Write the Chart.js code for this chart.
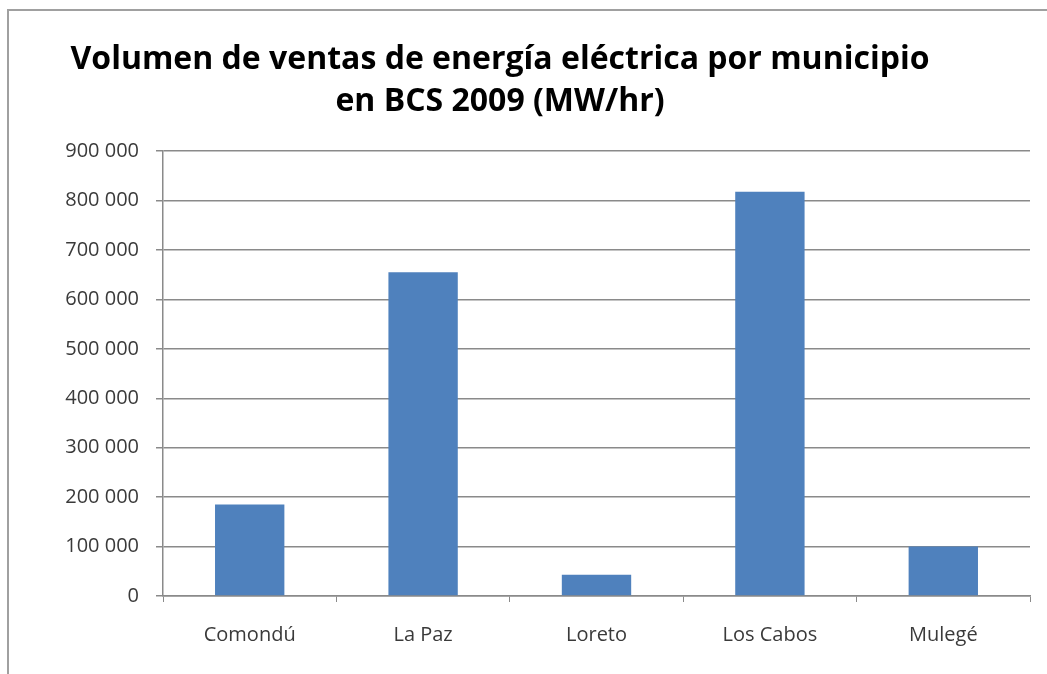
<!DOCTYPE html>
<html>
<head>
<meta charset="utf-8">
<script src="https://cdn.jsdelivr.net/npm/chart.js@4"></script>
<style>
    html, body {
        margin: 0;
        padding: 0;
        background: #ffffff;
    }
    #wrap {
        position: relative;
        width: 1047px;
        height: 674px;
    }
    #frame {
        position: absolute;
        left: 7px;
        top: 9px;
        right: 0;
        bottom: 0;
        border-top: 2px solid #a0a0a0;
        border-left: 2px solid #a0a0a0;
    }
    canvas {
        position: absolute;
        left: 0;
        top: 0;
    }
</style>
</head>
<body>
<div id="wrap">
    <div id="frame"></div>
    <canvas id="salesChart" width="1047" height="674"></canvas>
</div>
<script>
const municipios = ["Comondú", "La Paz", "Loreto", "Los Cabos", "Mulegé"];
const ventas = [185000, 655000, 43000, 818000, 100000];
const titleLines = [
    "Volumen de ventas de energía eléctrica por municipio",
    "en BCS 2009 (MW/hr)",
];

function formatThousands(value) {
    return String(value).replace(/\B(?=(\d{3})+(?!\d))/g, " ");
}

const salesChart = document.getElementById("salesChart");

new Chart(salesChart, {
    type: "bar",
    data: {
        labels: municipios,
        datasets: [
            {
                label: "Ventas",
                data: ventas,
                backgroundColor: "#4f81bd",
                borderWidth: 0,
                categoryPercentage: 1,
                barPercentage: 0.4,
            },
        ],
    },
    options: {
        responsive: false,
        animation: false,
        layout: {
            // negative left padding keeps the title centred like the original
            padding: { left: -30, right: 17, top: 0, bottom: 0 },
        },
        plugins: {
            legend: { display: false },
            tooltip: { enabled: false },
            title: {
                display: true,
                text: titleLines,
                color: "#000000",
                font: { family: "Open Sans", size: 32, weight: "bold", lineHeight: 1.3 },
                padding: { top: 39, bottom: 29 },
            },
        },
        scales: {
            x: {
                offset: true,
                grid: {
                    display: true,
                    drawOnChartArea: false,
                    drawTicks: true,
                    tickLength: 6,
                    color: "#8a8a8a",
                    offset: true,
                },
                border: { color: "#8a8a8a", width: 1.5 },
                ticks: {
                    color: "#3a3a3a",
                    font: { family: "Open Sans", size: 20 },
                    padding: 21,
                },
                afterFit: (scale) => {
                    scale.height = 78;
                },
            },
            y: {
                min: 0,
                max: 900000,
                grid: {
                    color: "#8a8a8a",
                    lineWidth: 1.5,
                    tickLength: 7,
                },
                border: { color: "#8a8a8a", width: 1.5 },
                ticks: {
                    stepSize: 100000,
                    color: "#3a3a3a",
                    font: { family: "Open Sans", size: 20 },
                    padding: 17,
                    callback: (value) => formatThousands(value),
                },
                afterFit: (scale) => {
                    scale.width = 193;
                },
            },
        },
    },
});
</script>
</body>
</html>
